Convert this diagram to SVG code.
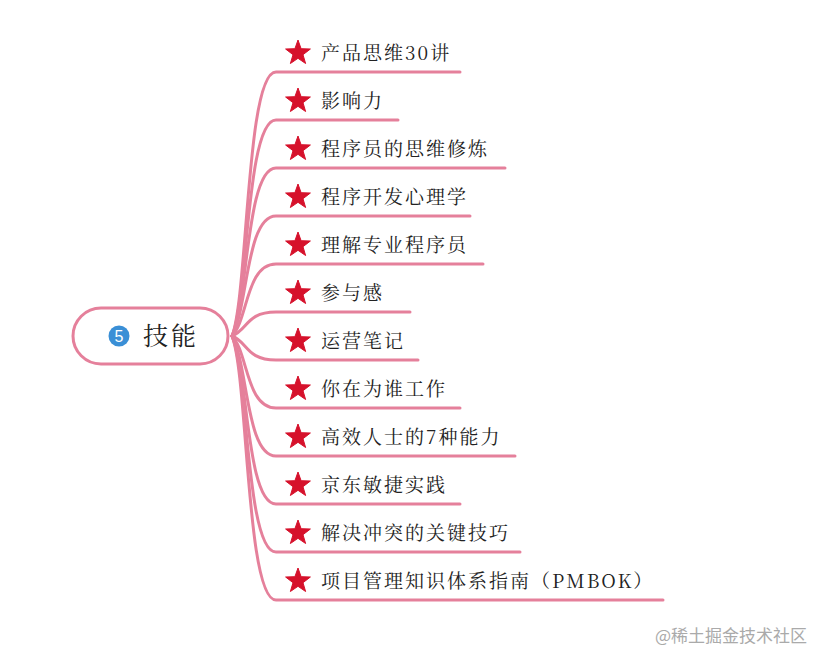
<svg xmlns="http://www.w3.org/2000/svg" xmlns:xlink="http://www.w3.org/1999/xlink" width="818" height="654" viewBox="0 0 818 654">
<style>
.c{fill:none;stroke:#e5809b;stroke-width:3;stroke-linecap:round}
.t{font-family:"Noto Serif CJK SC","Noto Sans CJK SC",serif;font-size:19px;letter-spacing:2px;fill:#222}
.s{fill:#d6112b;stroke:#d6112b;stroke-width:1;stroke-linejoin:round}
</style>
<defs>
<polygon id="star" points="0,-13 3.1,-4.3 12.4,-4 5,1.7 7.6,10.5 0,5.3 -7.6,10.5 -5,1.7 -12.4,-4 -3.1,-4.3"/>
</defs>
<rect width="818" height="654" fill="#fff"/>
<g id="connectors">
<path class="c" d="M232,336 C248,296 246,72 276,72 H460"/>
<path class="c" d="M232,336 C248,300 246,120 276,120 H398"/>
<path class="c" d="M232,336 C248,304 246,168 276,168 H505"/>
<path class="c" d="M232,336 C248,308 246,216 276,216 H470"/>
<path class="c" d="M232,336 C248,320 246,264 276,264 H483"/>
<path class="c" d="M232,336 C248,330 246,312 276,312 H410"/>
<path class="c" d="M232,336 C248,342 246,360 276,360 H418"/>
<path class="c" d="M232,336 C248,352 246,408 276,408 H460"/>
<path class="c" d="M232,336 C248,364 246,456 276,456 H515"/>
<path class="c" d="M232,336 C248,368 246,504 276,504 H460"/>
<path class="c" d="M232,336 C248,372 246,552 276,552 H520"/>
<path class="c" d="M232,336 C248,376 246,600 276,600 H663"/>
</g>
<g id="root">
<rect x="73" y="308" width="155" height="56" rx="28" fill="#fff" stroke="#e5809b" stroke-width="3"/>
<circle cx="119" cy="336" r="10.5" fill="#3a8fd6"/>
<text x="119" y="342" font-family="Liberation Sans,sans-serif" font-size="16" fill="#fff" text-anchor="middle">5</text>
<text x="143" y="345" font-family="Noto Serif CJK SC,Noto Sans CJK SC,serif" font-size="25" letter-spacing="3" fill="#222">技能</text>
</g>
<g id="n1"><use href="#star" class="s" x="298" y="53"/><text class="t" x="321" y="60">产品思维30讲</text></g>
<g id="n2"><use href="#star" class="s" x="298" y="101"/><text class="t" x="321" y="108">影响力</text></g>
<g id="n3"><use href="#star" class="s" x="298" y="149"/><text class="t" x="321" y="156">程序员的思维修炼</text></g>
<g id="n4"><use href="#star" class="s" x="298" y="197"/><text class="t" x="321" y="204">程序开发心理学</text></g>
<g id="n5"><use href="#star" class="s" x="298" y="245"/><text class="t" x="321" y="252">理解专业程序员</text></g>
<g id="n6"><use href="#star" class="s" x="298" y="293"/><text class="t" x="321" y="300">参与感</text></g>
<g id="n7"><use href="#star" class="s" x="298" y="341"/><text class="t" x="321" y="348">运营笔记</text></g>
<g id="n8"><use href="#star" class="s" x="298" y="389"/><text class="t" x="321" y="396">你在为谁工作</text></g>
<g id="n9"><use href="#star" class="s" x="298" y="437"/><text class="t" x="321" y="444">高效人士的7种能力</text></g>
<g id="n10"><use href="#star" class="s" x="298" y="485"/><text class="t" x="321" y="492">京东敏捷实践</text></g>
<g id="n11"><use href="#star" class="s" x="298" y="533"/><text class="t" x="321" y="540">解决冲突的关键技巧</text></g>
<g id="n12"><use href="#star" class="s" x="298" y="581"/><text class="t" x="321" y="588">项目管理知识体系指南（PMBOK）</text></g>
<text x="655" y="642" font-family="Noto Sans CJK SC,sans-serif" font-size="17" fill="#aaa">@稀土掘金技术社区</text>
</svg>
